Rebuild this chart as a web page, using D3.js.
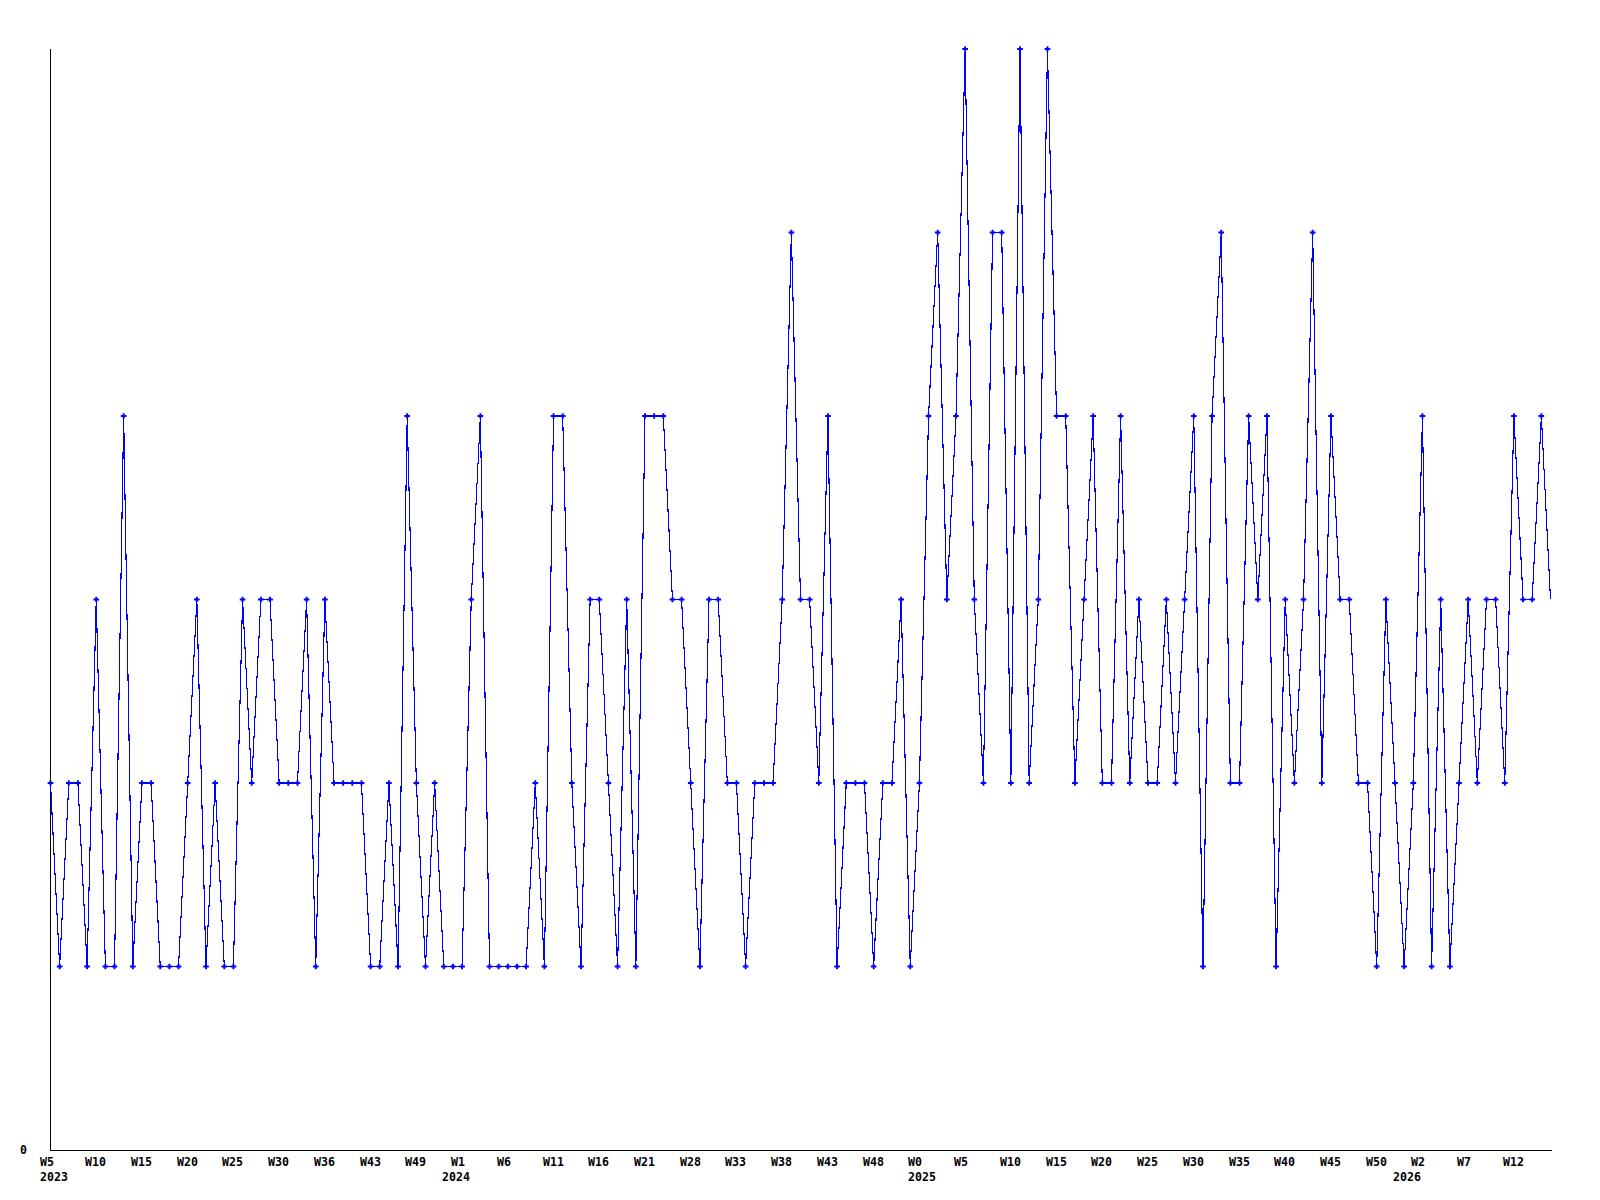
<!DOCTYPE html>
<html>
<head>
<meta charset="utf-8">
<script src="https://cdn.jsdelivr.net/npm/d3@7"></script>
<style>
    body { margin: 0; background: #fff; }
    text { font-family: "DejaVu Sans Mono", "Liberation Mono", monospace; font-weight: bold; font-size: 11.6px; fill: #000; }
</style>
</head>
<body>
<div id="graph-01"></div>
<script>
// data ---------------------------------------------------------------
// one value per weekly point, starting 2023 W5
var values = [
    2,1,2,2,1,3,1,1,4,1, 2,2,1,1,1,2,3,1,2,1,
    1,3,2,3,3,2,2,2,3,1, 3,2,2,2,2,1,1,2,1,4,
    2,1,2,1,1,1,3,4,1,1, 1,1,1,2,1,4,4,2,1,3,
    3,2,1,3,1,4,4,4,3,3, 2,1,3,3,2,2,1,2,2,2,
    3,5,3,3,2,4,1,2,2,2, 1,2,2,3,1,2,4,5,3,4,
    6,3,2,5,5,2,6,2,3,6, 4,4,2,3,4,2,2,4,2,3,
    2,2,3,2,3,4,1,4,5,2, 2,4,3,4,1,3,2,3,5,2,
    4,3,3,2,2,1,3,2,1,2, 4,1,3,1,2,3,2,3,3,2,
    4,3,3,4,3
];

// week label on every 5th point
var weekLabels = ['W5','W10','W15','W20','W25','W30','W36','W43','W49','W1','W6',
    'W11','W16','W21','W28','W33','W38','W43','W48','W0','W5','W10','W15',
    'W20','W25','W30','W35','W40','W45','W50','W2','W7','W12'];
var weekStep = 5;

// first point of each year
var years     = ['2023','2024','2025','2026'];
var yearStart = [0, 44, 95, 148];

(function(){
    var WIDTH  = 1600,
        HEIGHT = 1200,
        LEFT   = 50.5,
        RIGHT  = 1550.5,
        TOP    = 49,
        BOTTOM = 1150;

    var svg = d3.select('div#graph-01')
        .append('svg')
        .attr('width', WIDTH)
        .attr('height', HEIGHT);

    var x = d3.scaleLinear().domain([0, values.length - 1]).range([LEFT, RIGHT]);
    var y = d3.scaleLinear().domain([0, 6]).range([BOTTOM, TOP]);

    // axes
    svg.append('line')
        .attr('x1', LEFT).attr('x2', LEFT)
        .attr('y1', TOP).attr('y2', BOTTOM + 0.5)
        .attr('stroke', '#000').attr('shape-rendering', 'crispEdges');
    svg.append('line')
        .attr('x1', LEFT).attr('x2', RIGHT + 1)
        .attr('y1', BOTTOM + 0.5).attr('y2', BOTTOM + 0.5)
        .attr('stroke', '#000').attr('shape-rendering', 'crispEdges');

    svg.append('text')
        .attr('x', 27).attr('y', y(0) + 4)
        .attr('text-anchor', 'end')
        .text('0');

    // x labels, left aligned just before the point
    svg.append('g').attr('class', 'week-label')
        .selectAll('text')
        .data(weekLabels)
        .enter().append('text')
        .attr('x', function(d, i){ return Math.round(x(i * weekStep)) - 11; })
        .attr('y', 1166)
        .text(function(d){ return d; });

    svg.append('g').attr('class', 'year-label')
        .selectAll('text')
        .data(years)
        .enter().append('text')
        .attr('x', function(d, i){ return Math.round(x(yearStart[i])) - 11; })
        .attr('y', 1181)
        .text(function(d){ return d; });

    // the series
    var line = d3.line()
        .x(function(d, i){ return x(i); })
        .y(function(d){ return y(d); });

    svg.append('path')
        .datum(values)
        .attr('d', line)
        .attr('fill', 'none')
        .attr('stroke', '#0000ff')
        .attr('stroke-width', 1.1)
        .attr('shape-rendering', 'crispEdges');

    // markers (the last point has none)
    svg.append('g').attr('class', 'markers')
        .selectAll('path')
        .data(values.slice(0, values.length - 1))
        .enter().append('path')
        .attr('d', d3.symbol().type(d3.symbolCross).size(18))
        .attr('transform', function(d, i){ return 'translate(' + x(i) + ',' + y(d) + ')'; })
        .attr('fill', '#0000ff');
})();
</script>
</body>
</html>
